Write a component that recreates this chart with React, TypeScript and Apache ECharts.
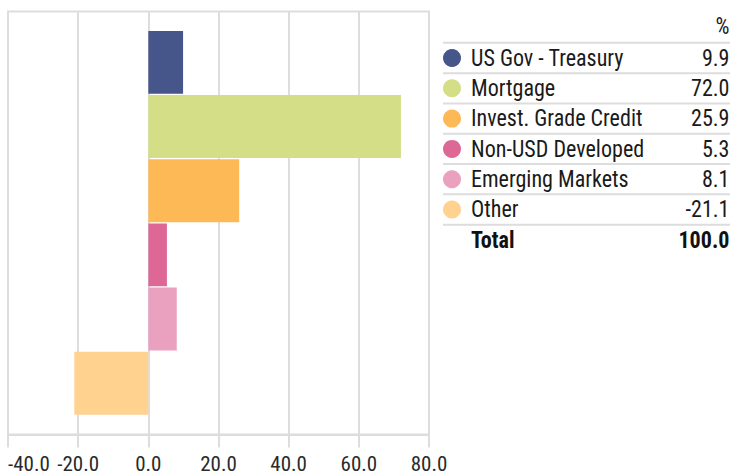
import React, { useEffect, useRef } from "react";
import * as echarts from "echarts";

const categories = ["US Gov - Treasury", "Mortgage", "Invest. Grade Credit", "Non-USD Developed", "Emerging Markets", "Other"];
const values = [9.9, 72.0, 25.9, 5.3, 8.1, -21.1];
const valueLabels = ["9.9", "72.0", "25.9", "5.3", "8.1", "-21.1"];
const totalLabel = "100.0";
const colors = ["#46558a", "#d4de86", "#feb957", "#dd6896", "#e9a1bf", "#ffd290"];
const axisMin = -40;
const axisMax = 80;
const axisInterval = 20;

const FONT = "'Roboto Condensed', 'Liberation Sans Narrow', 'DejaVu Sans Condensed', Roboto, sans-serif";

export default function App() {
  const ref = useRef<HTMLDivElement>(null);
  useEffect(() => {
    if (!ref.current) return;
    const chart = echarts.init(ref.current, undefined, { renderer: "svg" });
    const rowY0 = 58;
    const pitch = 30.3;
    const lineColor = "#dddddd";
    const textColor = "#1a1a1a";
    const fs = 24;
    const sx = 0.92;
    const rightX = 729.5;
    const graphics: any[] = [];
    graphics.push({
      type: "text", x: rightX, y: 26, scaleX: sx,
      style: { text: "%", fill: textColor, fontSize: fs, fontFamily: FONT, align: "right", verticalAlign: "middle" },
    });
    for (let i = 0; i <= categories.length; i++) {
      const ly = rowY0 - pitch / 2 + i * pitch;
      graphics.push({ type: "line", shape: { x1: 443, y1: ly, x2: 730, y2: ly }, style: { stroke: lineColor, lineWidth: 2 } });
    }
    categories.forEach((c, i) => {
      const cy = rowY0 + i * pitch;
      graphics.push({ type: "circle", shape: { cx: 452, cy, r: 9 }, style: { fill: colors[i] } });
      graphics.push({
        type: "text", x: 471, y: cy, scaleX: sx,
        style: { text: c, fill: textColor, fontSize: fs, fontFamily: FONT, align: "left", verticalAlign: "middle" },
      });
      graphics.push({
        type: "text", x: rightX, y: cy, scaleX: sx,
        style: { text: valueLabels[i], fill: textColor, fontSize: fs, fontFamily: FONT, align: "right", verticalAlign: "middle" },
      });
    });
    const ty = rowY0 + categories.length * pitch;
    graphics.push({
      type: "text", x: 471, y: ty, scaleX: sx,
      style: { text: "Total", fill: "#111", fontSize: fs, fontWeight: "bold", fontFamily: FONT, align: "left", verticalAlign: "middle" },
    });
    graphics.push({
      type: "text", x: rightX, y: ty, scaleX: sx,
      style: { text: totalLabel, fill: "#111", fontSize: fs, fontWeight: "bold", fontFamily: FONT, align: "right", verticalAlign: "middle" },
    });

    chart.setOption({
      animation: false,
      grid: [
        { left: 8, top: 11.5, width: 421, height: 423, show: true, borderColor: lineColor, borderWidth: 2, containLabel: false, outerBoundsMode: "none" },
        { left: 8, top: 30.3, width: 421, height: 385, containLabel: false, outerBoundsMode: "none" },
      ],
      xAxis: [
        {
          type: "value", gridIndex: 0, min: axisMin, max: axisMax, interval: axisInterval,
          splitLine: { show: true, lineStyle: { color: lineColor, width: 2 } },
          axisLine: { show: true, lineStyle: { color: lineColor, width: 2 } },
          axisTick: { show: true, length: 13, lineStyle: { color: lineColor, width: 2 } },
          axisLabel: {
            color: "#2a2a2a", fontSize: 21, fontFamily: FONT, margin: 19,
            alignMinLabel: "left",
            formatter: (v: number) => v.toFixed(1),
          },
        },
        { type: "value", gridIndex: 1, min: axisMin, max: axisMax, interval: axisInterval, show: false, splitLine: { show: false } },
      ],
      yAxis: [
        { type: "value", gridIndex: 0, show: false, splitLine: { show: false } },
        { type: "category", gridIndex: 1, data: categories, inverse: true, show: false },
      ],
      series: [
        {
          type: "bar", xAxisIndex: 1, yAxisIndex: 1, barCategoryGap: "2%",
          data: values.map((v, i) => ({ value: v, itemStyle: { color: colors[i] } })),
        },
      ],
      graphic: graphics,
    });
    return () => chart.dispose();
  }, []);
  return <div ref={ref} style={{ width: 733, height: 472, position: "absolute", left: 0, top: 0 }} />;
}
